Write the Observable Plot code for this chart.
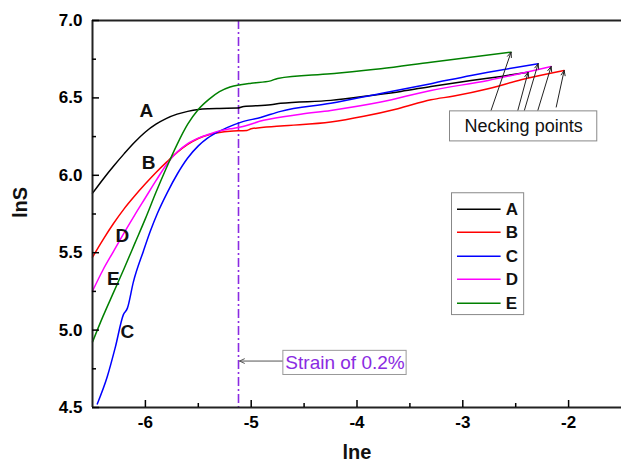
<!DOCTYPE html>
<html><head><meta charset="utf-8">
<script src="https://cdn.jsdelivr.net/npm/d3@7"></script>
<script src="https://cdn.jsdelivr.net/npm/@observablehq/plot@0.6"></script>
<style>
body{margin:0;background:#fff;}
#chart svg{display:block}
</style>
</head><body><div id="chart"></div>
<script>
// ---- data ----
const series = ["A","B","C","D","E"];
const colors = ["#000000","#ff0000","#0000ff","#ff00ff","#008000"];

const xA = [-6.50,-6.40,-6.30,-6.20,-6.10,-6.00,-5.90,-5.80,-5.70,-5.60,-5.50,-5.40,-5.30,-5.13,-5.07,-4.816,-4.722,-4.248,-3.869,-3.585,-3.301,-2.922,-2.638,-2.383];
const yA = [5.884,5.975,6.060,6.140,6.215,6.280,6.330,6.368,6.395,6.413,6.425,6.430,6.432,6.434,6.445,6.455,6.465,6.484,6.516,6.542,6.574,6.613,6.639,6.665];

const xB = [-6.50,-6.40,-6.30,-6.20,-6.10,-6.00,-5.90,-5.80,-5.70,-5.60,-5.50,-5.40,-5.30,-5.20,-5.10,-5.04,-5.00,-4.722,-4.248,-3.936,-3.614,-3.301,-3.083,-2.761,-2.449,-2.042];
const yB = [5.471,5.585,5.690,5.785,5.868,5.945,6.018,6.085,6.148,6.200,6.238,6.262,6.276,6.284,6.288,6.290,6.300,6.318,6.344,6.381,6.430,6.488,6.512,6.559,6.617,6.677];

const xC = [-6.455,-6.360,-6.284,-6.208,-6.170,-6.114,-6.019,-5.953,-5.886,-5.792,-5.697,-5.602,-5.50,-5.413,-5.30,-5.223,-5.100,-4.911,-4.722,-4.248,-3.775,-3.301,-2.922,-2.288];
const yC = [4.523,4.700,4.890,5.100,5.142,5.310,5.510,5.640,5.755,5.890,6.010,6.110,6.190,6.240,6.285,6.310,6.342,6.374,6.413,6.465,6.529,6.592,6.645,6.721];

const xD = [-6.50,-6.40,-6.30,-6.20,-6.10,-6.00,-5.90,-5.80,-5.70,-5.60,-5.50,-5.40,-5.30,-5.20,-5.10,-4.883,-4.532,-4.248,-3.775,-3.301,-2.761,-2.165];
const yD = [5.252,5.390,5.510,5.630,5.745,5.855,5.965,6.070,6.150,6.205,6.240,6.265,6.287,6.300,6.312,6.355,6.394,6.419,6.473,6.548,6.613,6.703];

const xE = [-6.50,-6.40,-6.30,-6.20,-6.10,-6.00,-5.90,-5.80,-5.70,-5.60,-5.50,-5.40,-5.30,-5.20,-5.10,-5.00,-4.816,-4.750,-4.248,-3.775,-3.301,-2.544];
const yE = [4.923,5.090,5.245,5.400,5.560,5.720,5.890,6.050,6.200,6.330,6.425,6.490,6.540,6.570,6.585,6.595,6.610,6.626,6.656,6.688,6.731,6.795];

const xTicks = [-6,-5,-4,-3,-2];
const xMinor = [-5.5,-4.5,-3.5,-2.5];
const yTicks = [4.5,5.0,5.5,6.0,6.5,7.0];
const yMinor = [4.75,5.25,5.75,6.25,6.75];

const strainX = -5.12;             // ln e at 0.2% strain
const strainLabel = "Strain of 0.2%";
const neckLabel = "Necking points";

// curve letter labels (position in data units)
const letterX = [-5.99,-5.97,-6.17,-6.218,-6.303];
const letterY = [6.419,6.077,4.987,5.606,5.329];

// necking arrow tails (data units), one per series
const neckTailX = [-2.480,-2.117,-2.418,-2.291,-2.733];
const neckTailY = [6.419,6.441,6.419,6.419,6.419];

// legend rows (data units)
const legendY = [5.781,5.632,5.477,5.329,5.174];

// ---- build tables ----
const xs = [xA,xB,xC,xD,xE], ys = [yA,yB,yC,yD,yE];
const curves = series.flatMap((s,i) => xs[i].map((x,j) => ({s, x, y: ys[i][j]})));
const ends = series.map((s,i) => ({s, x: xs[i][xs[i].length-1], y: ys[i][ys[i].length-1], tx: neckTailX[i], ty: neckTailY[i]}));
const letters = series.map((s,i) => ({s, x: letterX[i], y: letterY[i]}));
const legend = series.map((s,i) => ({s, y: legendY[i]}));

const font = "'Liberation Sans', Arial, Helvetica, sans-serif";
const colorScale = {domain: series, range: colors};

const plot = Plot.plot({
  width: 621, height: 467,
  marginLeft: 92, marginRight: 0, marginTop: 20, marginBottom: 60,
  x: {domain: [-6.5, -1.5]},
  y: {domain: [4.5, 7.0]},
  color: colorScale,
  style: {fontFamily: font, background: "#fff", overflow: "visible"},
  marks: [
    // strain line
    Plot.ruleX([strainX], {stroke: "#8a2be2", strokeWidth: 1.6, strokeDasharray: "9,3,2,3"}),
    // curves
    Plot.line(curves, {x: "x", y: "y", z: "s", stroke: "s", strokeWidth: 1.5, curve: "monotone-x"}),
    // frame
    Plot.ruleY([7.0], {stroke: "#222", strokeWidth: 2}),
    Plot.ruleY([4.5], {stroke: "#222", strokeWidth: 2}),
    Plot.ruleX([-6.5], {stroke: "#222", strokeWidth: 2}),
    // axes (inward ticks)
    Plot.axisX({ticks: xTicks, tickSize: -7, tickPadding: 15, label: null, fontSize: 17, fontWeight: "bold", tickFormat: d => d < 0 ? "-" + Math.abs(d) : String(d), strokeWidth: 1.5}),
    Plot.axisX({ticks: xMinor, tickSize: -4, tickFormat: () => "", label: null, strokeWidth: 1.5}),
    Plot.axisY({ticks: yTicks, tickSize: -7, tickPadding: 17, label: null, fontSize: 17, fontWeight: "bold", tickFormat: d3.format(".1f"), strokeWidth: 1.5}),
    Plot.axisY({ticks: yMinor, tickSize: -4, tickFormat: () => "", label: null, strokeWidth: 1.5}),
    // axis titles
    Plot.text(["lne"], {frameAnchor: "bottom", dy: 51, text: d => d, fontSize: 20, fontWeight: "bold", fill: "#111"}),
    Plot.text(["lnS"], {frameAnchor: "left", dx: -72, dy: 4, rotate: -90, text: d => d, fontSize: 20, fontWeight: "bold", fill: "#111"}),
    // curve letters
    Plot.text(letters, {x: "x", y: "y", text: "s", fontSize: 19, fontWeight: "bold", fill: "#111"}),
    // necking arrows
    Plot.arrow(ends, {x1: "tx", y1: "ty", x2: "x", y2: "y", stroke: "#222", strokeWidth: 1, headLength: 8, headAngle: 45}),
    // necking box
    Plot.rect([0], {x1: -3.121, x2: -1.729, y1: 6.219, y2: 6.413, fill: "#fff", stroke: "#888", strokeWidth: 1}),
    Plot.text([neckLabel], {x: -2.425, y: 6.316, text: d => d, fontSize: 18, fill: "#111"}),
    // strain annotation
    Plot.arrow([0], {x1: -4.696, y1: 4.80, x2: strainX + 0.01, y2: 4.80, stroke: "#555", strokeWidth: 1, headLength: 8, headAngle: 50}),
    Plot.rect([0], {x1: -4.696, x2: -3.531, y1: 4.71, y2: 4.866, fill: "#fff", stroke: "#999", strokeWidth: 1}),
    Plot.text([strainLabel], {x: -4.113, y: 4.787, text: d => d, fontSize: 19, fill: "#8a2be2"}),
    // legend
    Plot.rect([0], {x1: -3.102, x2: -2.420, y1: 5.097, y2: 5.884, fill: "#fff", stroke: "#888", strokeWidth: 1}),
    Plot.ruleY(legend, {y: "y", x1: -3.05, x2: -2.638, stroke: "s", strokeWidth: 1.5}),
    Plot.text(legend, {x: -2.595, y: "y", text: "s", textAnchor: "start", fontSize: 17, fontWeight: "bold", fill: "#111"})
  ]
});
document.getElementById("chart").appendChild(plot);
</script>
</body></html>
